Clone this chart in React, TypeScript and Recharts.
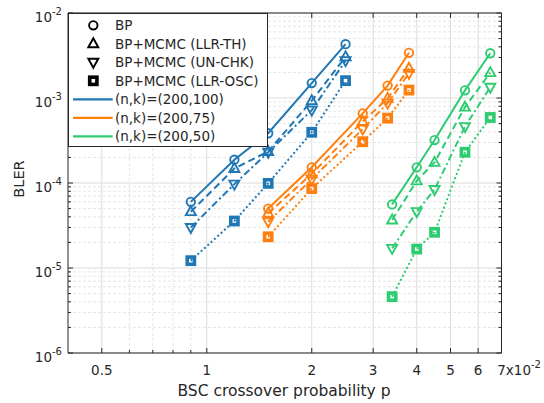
import React from 'react';
import { LineChart, Line, XAxis, YAxis, CartesianGrid, ReferenceArea } from 'recharts';

const FONT = '"DejaVu Sans", "Liberation Sans", Arial, sans-serif';
const AX = '#262626';

// plot box edges (px)
const L = 68;
const R = 501.5;
const T = 13;
const B = 353;

// crossover probability p, in units of 10^-2
const pN100 = [0.9, 1.2, 1.5, 2.0, 2.5];
const pN75 = [1.5, 2.0, 2.8, 3.3, 3.8];
const pN50 = [3.4, 4.0, 4.5, 5.5, 6.5];

// BLER, (200,100)
const bpN100 = [6.0e-5, 1.88e-4, 3.85e-4, 1.5e-3, 4.3e-3];
const thN100 = [4.6e-5, 1.48e-4, 2.35e-4, 9.3e-4, 3.05e-3];
const chkN100 = [3.0e-5, 9.7e-5, 2.3e-4, 7.2e-4, 2.75e-3];
const oscN100 = [1.22e-5, 3.57e-5, 9.9e-5, 3.95e-4, 1.6e-3];

// BLER, (200,75)
const bpN75 = [5.0e-5, 1.53e-4, 6.6e-4, 1.4e-3, 3.4e-3];
const thN75 = [4.4e-5, 1.28e-4, 5.3e-4, 9.9e-4, 2.24e-3];
const chkN75 = [3.5e-5, 1.11e-4, 4.3e-4, 8.7e-4, 1.95e-3];
const oscN75 = [2.33e-5, 8.6e-5, 3.06e-4, 5.8e-4, 1.24e-3];

// BLER, (200,50)
const bpN50 = [5.6e-5, 1.53e-4, 3.2e-4, 1.23e-3, 3.36e-3];
const thN50 = [3.67e-5, 1.06e-4, 1.75e-4, 7.8e-4, 1.99e-3];
const chkN50 = [1.7e-5, 4.6e-5, 8.4e-5, 4.6e-4, 1.34e-3];
const oscN50 = [4.6e-6, 1.67e-5, 2.63e-5, 2.3e-4, 5.9e-4];

const decoderNames = ['BP', 'BP+MCMC (LLR-TH)', 'BP+MCMC (UN-CHK)', 'BP+MCMC (LLR-OSC)'];
const codeNames = ['(n,k)=(200,100)', '(n,k)=(200,75)', '(n,k)=(200,50)'];
const codeColors = ['#1f77b4', '#ff7f0e', '#2ecc71'];
const dashes = [undefined, '7 4', '7 3 2 3', '2 2.5'];

const xLabeled = [0.5, 1, 2, 3, 4, 5, 6, 7];
const xMinor = [0.6, 0.7, 0.8, 0.9];
const xTicks = [0.5, 0.6, 0.7, 0.8, 0.9, 1, 2, 3, 4, 5, 6, 7];
const yDecades = [1e-6, 1e-5, 1e-4, 1e-3, 1e-2];
const yMantissas = [2, 3, 4, 5, 6, 7, 8, 9];
const yMinor = yDecades.slice(0, 4).flatMap((d) => yMantissas.map((m) => m * d));
const yTicks = [...yDecades, ...yMinor];

const codes = [
  { p: pN100, vals: [bpN100, thN100, chkN100, oscN100] },
  { p: pN75, vals: [bpN75, thN75, chkN75, oscN75] },
  { p: pN50, vals: [bpN50, thN50, chkN50, oscN50] },
];

const Marker = ({ cx, cy, kind, color }: any) => {
  if (cx == null || cy == null) return null;
  if (kind === 0) return <circle cx={cx} cy={cy} r={4.2} fill="none" stroke={color} strokeWidth={1.9} />;
  if (kind === 1)
    return (
      <polygon
        points={`${cx},${cy - 5.5} ${cx + 5},${cy + 3.5} ${cx - 5},${cy + 3.5}`}
        fill="none" stroke={color} strokeWidth={1.9} />
    );
  if (kind === 2)
    return (
      <polygon
        points={`${cx},${cy + 5.5} ${cx + 5},${cy - 3.5} ${cx - 5},${cy - 3.5}`}
        fill="none" stroke={color} strokeWidth={1.9} />
    );
  return <rect x={cx - 3.6} y={cy - 3.6} width={7.2} height={7.2} fill="none" stroke={color} strokeWidth={3.6} />;
};

const XTick = (props: any) => {
  const v = props.payload.value;
  const x = props.payload.coordinate ?? props.x;
  const major = xLabeled.includes(v);
  const len = major ? 5 : 3;
  return (
    <g>
      <line x1={x} x2={x} y1={B} y2={B - len} stroke={AX} />
      <line x1={x} x2={x} y1={T} y2={T + len} stroke={AX} />
      {major && (
        <text x={x} y={375} textAnchor="middle" fontSize={13.5} fill={AX} fontFamily={FONT}>{v}</text>
      )}
      {v === 7 && (
        <text x={x + 4.3} y={375} textAnchor="start" fontSize={13.5} fill={AX} fontFamily={FONT}>
          x10<tspan dy={-7} fontSize={10}>-2</tspan>
        </text>
      )}
    </g>
  );
};

const YTick = (props: any) => {
  const v = props.payload.value;
  const y = props.payload.coordinate ?? props.y;
  const major = yDecades.includes(v);
  const len = major ? 5 : 3;
  return (
    <g>
      <line x1={L} x2={L + len} y1={y} y2={y} stroke={AX} />
      <line x1={R} x2={R - len} y1={y} y2={y} stroke={AX} />
      {major && (
        <text x={62} y={y + 8.5} textAnchor="end" fontSize={13.5} fill={AX} fontFamily={FONT}>
          10<tspan dy={-7} fontSize={10}>{String(Math.round(Math.log10(v)))}</tspan>
        </text>
      )}
    </g>
  );
};

const LegendBox = () => {
  const rowY = (i: number) => 12.3 + i * 18.5;
  return (
    <div style={{ position: 'absolute', left: L, top: T, width: 200, height: 134, background: '#fff', border: `1px solid ${AX}`, boxSizing: 'border-box' }}>
      <svg width={200} height={134} style={{ position: 'absolute', left: -1, top: -1 }}>
        {decoderNames.map((name, i) => (
          <g key={name}>
            <Marker cx={25.3} cy={rowY(i)} kind={i} color="#000" />
            <text x={47} y={rowY(i) + 5} fontSize={13.5} fill={AX} fontFamily={FONT}>{name}</text>
          </g>
        ))}
        {codeNames.map((name, j) => (
          <g key={name}>
            <line x1={5} x2={44.7} y1={rowY(4 + j)} y2={rowY(4 + j)} stroke={codeColors[j]} strokeWidth={2.2} />
            <text x={47} y={rowY(4 + j) + 5} fontSize={13.5} fill={AX} fontFamily={FONT}>{name}</text>
          </g>
        ))}
      </svg>
    </div>
  );
};

export default function App() {
  return (
    <div style={{ position: 'absolute', left: 0, top: 0, width: 544, height: 403, background: '#fff', fontFamily: FONT }}>
      <LineChart width={544} height={403} margin={{ top: T, left: 0, right: 544 - R, bottom: 0 }}>
        <CartesianGrid horizontalValues={yMinor} verticalValues={xMinor} stroke="#e6e6e6" strokeDasharray="3 2" />
        <CartesianGrid horizontalValues={yDecades} verticalValues={xLabeled} stroke="#dcdcdc" />
        <XAxis dataKey="p" type="number" scale="log" domain={[0.4, 7]} allowDataOverflow ticks={xTicks}
          interval={0} height={403 - B} axisLine={false} tickLine={false} tick={<XTick />} />
        <YAxis type="number" scale="log" domain={[1e-6, 1e-2]} allowDataOverflow ticks={yTicks}
          interval={0} width={L} axisLine={false} tickLine={false} tick={<YTick />} />
        {codes.map((c, j) =>
          c.vals.map((vals, k) => {
            const data = c.p.map((p, i) => ({ p, v: vals[i] }));
            const color = codeColors[j];
            return (
              <Line key={`${j}-${k}`} data={data} dataKey="v" type="linear" stroke={color} strokeWidth={2}
                strokeDasharray={dashes[k]} isAnimationActive={false}
                dot={(props: any) => <Marker key={`m${j}-${k}-${props.index}`} cx={props.cx} cy={props.cy} kind={k} color={color} />}
                activeDot={false} />
            );
          })
        )}
        <ReferenceArea x1={0.4} x2={7} y1={1e-6} y2={1e-2} fill="none" stroke={AX} strokeWidth={1} />
      </LineChart>
      <LegendBox />
      <svg width={544} height={403} style={{ position: 'absolute', left: 0, top: 0, pointerEvents: 'none' }}>
        <text x={24} y={179} textAnchor="middle" transform="rotate(-90 24 179)" fontSize={14.5} fill={AX} fontFamily={FONT}>BLER</text>
        <text x={284} y={396} textAnchor="middle" fontSize={15.5} fill={AX} fontFamily={FONT}>BSC crossover probability p</text>
      </svg>
    </div>
  );
}
